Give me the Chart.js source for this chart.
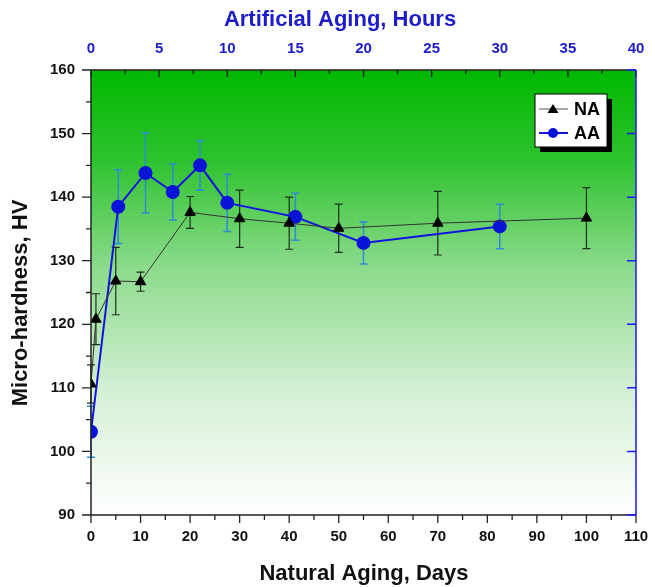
<!DOCTYPE html>
<html>
<head>
<meta charset="utf-8">
<script src="https://cdn.jsdelivr.net/npm/chart.js@4"></script>
<style>
    body { margin: 0; background: #fff; }
    #wrap { width: 652px; height: 587px; }
</style>
</head>
<body>
<div id="wrap"><canvas id="grafico" width="652" height="587"></canvas></div>
<script>
// Natural aging (days) - bottom axis
const naDays = [0, 1, 5, 10, 20, 30, 40, 50, 70, 100];
const naHV = [110.6, 120.8, 126.8, 126.7, 137.6, 136.6, 135.9, 135.1, 135.9, 136.7];
const naErr = [3, 4, 5.3, 1.5, 2.5, 4.5, 4.1, 3.8, 5, 4.8];

// Artificial aging (hours) - top axis
const aaHours = [0, 2, 4, 6, 8, 10, 15, 20, 30];
const aaHV = [103.1, 138.5, 143.8, 140.8, 145, 139.1, 136.9, 132.8, 135.4];
const aaErr = [4, 5.8, 6.3, 4.4, 3.9, 4.5, 3.7, 3.3, 3.5];

const dayTicks = [0, 10, 20, 30, 40, 50, 60, 70, 80, 90, 100, 110];
const hourTicks = [0, 5, 10, 15, 20, 25, 30, 35, 40];
const hvTicks = [90, 100, 110, 120, 130, 140, 150, 160];

const fam = '"Liberation Sans", Arial, sans-serif';
const tickFont = { family: fam, size: 15, weight: 'bold' };
const azul = '#1c1ccc';

const fundoPlugin = {
    id: 'fundo',
    beforeDatasetsDraw(chart) {
        const { ctx, chartArea: a } = chart;
        const g = ctx.createLinearGradient(0, a.top, 0, a.bottom);
        g.addColorStop(0, '#00b800');
        g.addColorStop(0.2, '#2dc22d');
        g.addColorStop(0.45, '#8edb8e');
        g.addColorStop(0.72, '#d4efd4');
        g.addColorStop(1, '#ffffff');
        ctx.save();
        ctx.fillStyle = g;
        ctx.fillRect(a.left, a.top, a.right - a.left, a.bottom - a.top);

        // barras de erro
        const desenhaErros = (xs, ys, errs, xScale, color, lw) => {
            const y = chart.scales.y;
            ctx.strokeStyle = color;
            ctx.lineWidth = lw;
            xs.forEach((xv, i) => {
                const px = xScale.getPixelForValue(xv);
                const top = y.getPixelForValue(ys[i] + errs[i]);
                const bot = y.getPixelForValue(ys[i] - errs[i]);
                ctx.beginPath();
                ctx.moveTo(px, top); ctx.lineTo(px, bot);
                ctx.moveTo(px - 4, top); ctx.lineTo(px + 4, top);
                ctx.moveTo(px - 4, bot); ctx.lineTo(px + 4, bot);
                ctx.stroke();
            });
        };
        desenhaErros(naDays, naHV, naErr, chart.scales.x, '#1e2e1e', 1.2);
        desenhaErros(aaHours, aaHV, aaErr, chart.scales.x2, '#2f8ad8', 1.5);
        ctx.restore();
    },
    afterDatasetsDraw(chart) {
        const { ctx, chartArea: a, scales } = chart;
        ctx.save();
        // moldura
        ctx.lineWidth = 1.5;
        ctx.strokeStyle = '#222';
        ctx.beginPath();
        ctx.moveTo(a.left, a.top); ctx.lineTo(a.right, a.top);
        ctx.moveTo(a.left, a.top); ctx.lineTo(a.left, a.bottom); ctx.lineTo(a.right, a.bottom);
        ctx.stroke();

        // ticks
        ctx.lineWidth = 1.3;
        ctx.beginPath();
        for (let d = 0; d <= 110; d += 5) {
            const px = scales.x.getPixelForValue(d);
            const len = d % 10 === 0 ? 8 : 5;
            ctx.moveTo(px, a.bottom); ctx.lineTo(px, a.bottom + len);
        }
        for (let v = 90; v <= 160; v += 5) {
            const py = scales.y.getPixelForValue(v);
            const len = v % 10 === 0 ? 9 : 5;
            ctx.moveTo(a.left, py); ctx.lineTo(a.left - len, py);
        }
        for (let h = 0; h <= 40; h += 2.5) {
            const px = scales.x2.getPixelForValue(h);
            const len = h % 5 === 0 ? 7 : 4;
            ctx.moveTo(px, a.top); ctx.lineTo(px, a.top + len);
        }
        ctx.stroke();
        ctx.strokeStyle = '#1a1aff';
        ctx.lineWidth = 1.5;
        ctx.beginPath();
        ctx.moveTo(a.right, a.top); ctx.lineTo(a.right, a.bottom);
        for (let v = 90; v <= 160; v += 10) {
            const py = scales.y2.getPixelForValue(v);
            ctx.moveTo(a.right, py); ctx.lineTo(a.right - 9, py);
        }
        ctx.stroke();

        // legenda
        const lx = 535, ly = 94, lw = 72, lh = 53;
        ctx.fillStyle = '#000';
        ctx.fillRect(lx + 5, ly + 5, lw, lh);
        ctx.fillStyle = '#fff';
        ctx.fillRect(lx, ly, lw, lh);
        ctx.lineWidth = 1;
        ctx.strokeStyle = '#000';
        ctx.strokeRect(lx, ly, lw, lh);
        ctx.font = 'bold 18px ' + fam;
        ctx.textBaseline = 'middle';
        const entries = [
            { y: ly + 15, line: '#555', lwid: 1, mark: 'tri', txt: 'NA' },
            { y: ly + 39, line: '#1212e0', lwid: 2, mark: 'circ', txt: 'AA' }
        ];
        entries.forEach(e => {
            ctx.strokeStyle = e.line;
            ctx.lineWidth = e.lwid;
            ctx.beginPath();
            ctx.moveTo(lx + 4, e.y); ctx.lineTo(lx + 33, e.y);
            ctx.stroke();
            ctx.beginPath();
            if (e.mark === 'tri') {
                ctx.fillStyle = '#000';
                ctx.moveTo(lx + 18, e.y - 5); ctx.lineTo(lx + 23.5, e.y + 4); ctx.lineTo(lx + 12.5, e.y + 4);
            } else {
                ctx.fillStyle = '#0a14d8';
                ctx.arc(lx + 18, e.y, 5, 0, Math.PI * 2);
            }
            ctx.closePath();
            ctx.fill();
            ctx.fillStyle = '#000';
            ctx.fillText(e.txt, lx + 39, e.y + 1);
        });

        // titulos dos eixos
        ctx.font = 'bold 22px ' + fam;
        ctx.textAlign = 'center';
        ctx.textBaseline = 'middle';
        ctx.fillStyle = azul;
        ctx.fillText('Artificial Aging, Hours', 340, 20);
        ctx.fillStyle = '#111';
        ctx.fillText('Natural Aging, Days', 364, 574);
        ctx.translate(21, 303);
        ctx.rotate(-Math.PI / 2);
        ctx.fillText('Micro-hardness, HV', 0, 0);
        ctx.restore();
    }
};

const ctx = document.getElementById('grafico').getContext('2d');
new Chart(ctx, {
    type: 'line',
    data: {
        datasets: [
            {
                label: 'NA',
                data: naDays.map((d, i) => ({ x: d, y: naHV[i] })),
                xAxisID: 'x',
                yAxisID: 'y',
                borderColor: '#333',
                borderWidth: 1,
                pointStyle: 'triangle',
                pointRadius: 6,
                pointBackgroundColor: '#000',
                pointBorderColor: '#000',
                tension: 0
            },
            {
                label: 'AA',
                data: aaHours.map((h, i) => ({ x: h, y: aaHV[i] })),
                xAxisID: 'x2',
                yAxisID: 'y',
                borderColor: '#1212e0',
                borderWidth: 2,
                pointStyle: 'circle',
                pointRadius: 6,
                pointBackgroundColor: '#0a14d8',
                pointBorderColor: '#0a14d8',
                tension: 0
            }
        ]
    },
    options: {
        responsive: false,
        animation: false,
        layout: { padding: 0 },
        plugins: { legend: { display: false }, tooltip: { enabled: false } },
        scales: {
            x: {
                type: 'linear', position: 'bottom', min: 0, max: 110,
                afterFit: s => { s.height = 72; s.paddingLeft = 0; s.paddingRight = 0; },
                afterBuildTicks: s => { s.ticks = dayTicks.map(v => ({ value: v })); },
                grid: { display: false, drawTicks: false },
                border: { display: false },
                ticks: { font: tickFont, color: '#111', padding: 13, maxRotation: 0, autoSkip: false }
            },
            x2: {
                type: 'linear', position: 'top', min: 0, max: 40,
                afterFit: s => { s.height = 70; s.paddingLeft = 0; s.paddingRight = 0; },
                afterBuildTicks: s => { s.ticks = hourTicks.map(v => ({ value: v })); },
                grid: { display: false, drawTicks: false },
                border: { display: false },
                ticks: { font: tickFont, color: azul, padding: 12, maxRotation: 0, autoSkip: false }
            },
            y: {
                type: 'linear', position: 'left', min: 90, max: 160,
                afterFit: s => { s.width = 91; s.paddingTop = 0; s.paddingBottom = 0; },
                afterBuildTicks: s => { s.ticks = hvTicks.map(v => ({ value: v })); },
                grid: { display: false, drawTicks: false },
                border: { display: false },
                ticks: { font: tickFont, color: '#111', padding: 16 }
            },
            y2: {
                type: 'linear', position: 'right', min: 90, max: 160,
                afterFit: s => { s.width = 16; s.paddingTop = 0; s.paddingBottom = 0; },
                grid: { display: false, drawTicks: false },
                border: { display: false },
                ticks: { display: false }
            }
        }
    },
    plugins: [fundoPlugin]
});
</script>
</body>
</html>
